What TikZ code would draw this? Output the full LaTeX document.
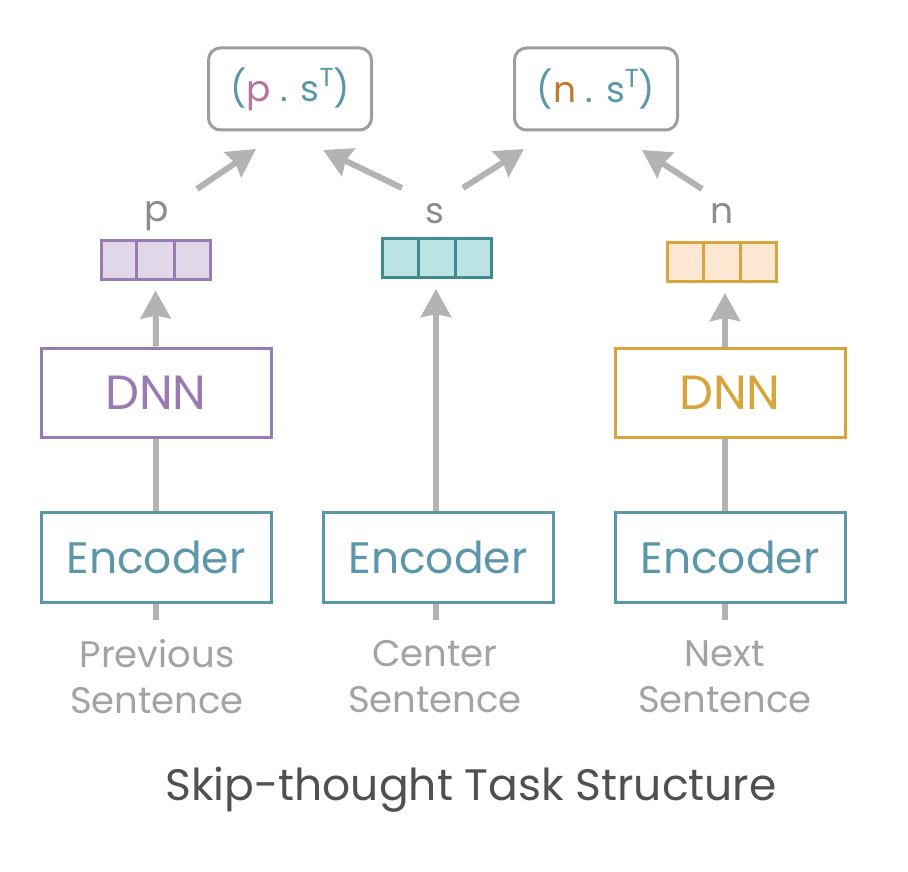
\documentclass[tikz,border=0pt]{standalone}
\usepackage{fontspec}
\setmainfont{Poppins}
\usetikzlibrary{arrows.meta,calc}
\definecolor{purpleC}{HTML}{9A7BB1}
\definecolor{purpleF}{HTML}{E0D8E8}
\definecolor{tealC}{HTML}{5B96A9}
\definecolor{tealV}{HTML}{3F8B8F}
\definecolor{tealF}{HTML}{BCE3E4}
\definecolor{goldC}{HTML}{D8A43C}
\definecolor{goldF}{HTML}{FBE7D2}
\definecolor{arrowgray}{HTML}{B3B3B3}
\definecolor{boxgray}{HTML}{9E9E9E}
\definecolor{capgray}{HTML}{A3A3A3}
\definecolor{lblgray}{HTML}{8C8C8C}
\definecolor{titlegray}{HTML}{505050}
\definecolor{pinkC}{HTML}{B4749F}
\definecolor{brownC}{HTML}{C07A2A}
\newcommand{\supT}{\raisebox{0.42em}{\fontsize{26}{26}\selectfont T}}
\tikzset{
  conn/.style={draw=arrowgray, line width=6pt},
  arr/.style={conn, -{Stealth[length=28pt,width=30pt,inset=3pt]}},
  blockbox/.style={draw, line width=3pt, minimum width=230pt, inner sep=0pt, font=\fontsize{44}{50}\selectfont},
  dnnbox/.style={blockbox, minimum height=89pt, font=\fontsize{48}{50}\selectfont},
  encbox/.style={blockbox, draw=tealC, text=tealC, minimum height=90pt},
  vecbox/.style={draw, line width=3pt, minimum width=109pt, minimum height=39pt, inner sep=0pt},
  formbox/.style={draw=boxgray, line width=3pt, rounded corners=12pt, minimum width=163pt, minimum height=82pt, inner sep=0pt, text=tealC, font=\fontsize{36}{40}\selectfont},
  vlabel/.style={text=lblgray, font=\fontsize{36}{40}\selectfont, inner sep=0pt, anchor=base},
  caption/.style={text=capgray, align=center, font=\fontsize{37}{46}\selectfont, inner sep=0pt},
}
\begin{document}
\begin{tikzpicture}[x=1pt,y=-1pt]
\useasboundingbox[fill=white] (0,0) rectangle (908,872);
% formula boxes
\node[formbox] (f1) at (290,89) {(\textcolor{pinkC}{p} . s\supT)};
\node[formbox] (f2) at (596,89) {(\textcolor{brownC}{n} . s\supT)};
% labels
\node[vlabel] (lp) at (157,222) {p};
\node[vlabel] (ls) at (435,223) {s};
\node[vlabel] (ln) at (722,223) {n};
% vectors
\node[vecbox, draw=purpleC, fill=purpleF] (vp) at (155.5,259.5) {};
\node[vecbox, draw=tealV, fill=tealF] (vs) at (437,258) {};
\node[vecbox, draw=goldC, fill=goldF] (vn) at (722,262) {};
\foreach \v/\c in {vp/purpleC, vs/tealV, vn/goldC}{
  \draw[\c, line width=3pt] ($(\v.south west)!1/3!(\v.south east)$) -- ($(\v.north west)!1/3!(\v.north east)$);
  \draw[\c, line width=3pt] ($(\v.south west)!2/3!(\v.south east)$) -- ($(\v.north west)!2/3!(\v.north east)$);
}
% DNN
\node[dnnbox, draw=purpleC, text=purpleC] (dp) at (156,392.5) {DNN};
\node[dnnbox, draw=goldC, text=goldC] (dn) at (730,392.5) {DNN};
% encoders
\node[encbox] (ep) at (156,557) {Encoder};
\node[encbox] (es) at (438,557) {Encoder};
\node[encbox] (en) at (730,557) {Encoder};
% captions
\node[caption] (cp) at (157,677) {Previous\\Sentence};
\node[caption] (cs) at (435,677) {Center\\Sentence};
\node[caption] (cn) at (725,677) {Next\\Sentence};
% title
\node[text=titlegray, font=\fontsize{44}{50}\selectfont, inner sep=0pt] (title) at (471,790) {Skip-thought Task Structure};
% stubs below encoders
\coordinate (sp) at (156,620);
\coordinate (ss) at (436,620);
\coordinate (sn) at (725,620);
\draw[conn] (ep.south -| sp) -- (sp);
\draw[conn] (es.south -| ss) -- (ss);
\draw[conn] (en.south -| sn) -- (sn);
% vertical connectors
\draw[conn] (ep.north) -- (dp.south);
\draw[conn] (en.north -| sn) -- (dn.south -| sn);
\draw[arr] (dp.north) -- ($(vp.south)+(0,10)$);
\draw[arr] (dn.north -| sn) -- ($(vn.south -| sn)+(0,10)$);
\draw[arr] (es.north -| ss) -- ($(vs.south -| ss)+(0,10)$);
% diagonal arrows
\coordinate (t1) at (197,189);
\coordinate (h1) at (256,149);
\coordinate (t2) at (402,188);
\coordinate (h2) at (323,150);
\coordinate (t3) at (463,188);
\coordinate (h3) at (524,149);
\coordinate (t4) at (702,189);
\coordinate (h4) at (642,150);
\draw[arr] (t1) -- (h1);
\draw[arr] (t2) -- (h2);
\draw[arr] (t3) -- (h3);
\draw[arr] (t4) -- (h4);
\end{tikzpicture}
\end{document}
